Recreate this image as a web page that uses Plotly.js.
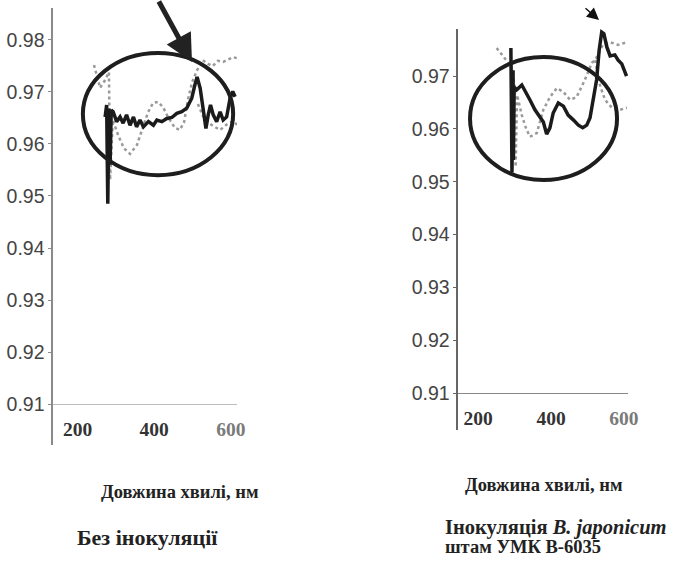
<!DOCTYPE html>
<html>
<head>
<meta charset="utf-8">
<script src="https://cdn.plot.ly/plotly-3.0.1.min.js"></script>
<style>html,body{margin:0;padding:0;background:#fff;}#chart{width:680px;height:564px;}</style>
</head>
<body>
<div id="chart"></div>
<script>
// ---- Data ----
// Left panel: "Без інокуляції"
const leftBlackX = [272, 276, 279, 282, 285, 288, 293, 302, 311, 319, 328, 337, 346, 354, 363, 372, 385, 398, 407, 420, 433, 446, 459, 472, 485, 498, 506, 512, 520, 528, 535, 541, 547, 554, 563, 572, 580, 589, 598, 605, 611];
const leftBlackY = [0.9652, 0.9675, 0.9485, 0.9668, 0.9560, 0.9665, 0.9662, 0.9643, 0.9652, 0.9640, 0.9656, 0.9636, 0.9652, 0.9633, 0.9646, 0.9633, 0.9643, 0.9636, 0.9646, 0.9643, 0.9649, 0.9651, 0.9659, 0.9662, 0.9669, 0.9688, 0.9713, 0.9729, 0.9707, 0.9662, 0.9630, 0.9656, 0.9675, 0.9656, 0.9643, 0.9662, 0.9646, 0.9652, 0.9688, 0.9701, 0.9691];
const leftDotAX = [243, 259, 272, 282, 285, 292, 306, 321, 337, 355, 371, 384, 397, 410, 423, 436, 454, 467, 478, 488, 499, 512, 527, 540, 553, 566, 580, 593, 606, 616];
const leftDotAY = [0.9752, 0.9708, 0.9723, 0.9738, 0.9531, 0.9646, 0.9617, 0.9592, 0.9581, 0.9598, 0.9633, 0.9661, 0.9679, 0.9681, 0.9671, 0.9652, 0.9631, 0.9627, 0.9642, 0.9685, 0.9719, 0.9742, 0.9761, 0.9754, 0.9750, 0.9760, 0.9758, 0.9763, 0.9767, 0.9765];
const leftDotBX = [514, 527, 540, 553, 572, 590, 606, 616];
const leftDotBY = [0.9677, 0.9654, 0.9642, 0.9635, 0.9627, 0.9638, 0.9644, 0.9637];

// Right panel: "Інокуляція B. japonicum штам УМК B-6035"
const rightBlackX = [290, 293, 296, 297, 299, 306, 320, 329, 342, 356, 370, 379, 388, 397, 406, 420, 434, 447, 461, 475, 487, 498, 507, 516, 525, 532, 539, 545, 553, 562, 575, 584, 594, 607];
const rightBlackY = [0.9753, 0.9518, 0.9711, 0.9541, 0.9679, 0.9674, 0.9683, 0.9670, 0.9655, 0.9636, 0.9622, 0.9613, 0.9590, 0.9602, 0.9630, 0.9649, 0.9643, 0.9626, 0.9617, 0.9607, 0.9602, 0.9607, 0.9621, 0.9655, 0.9693, 0.9749, 0.9783, 0.9780, 0.9755, 0.9738, 0.9740, 0.9730, 0.9723, 0.9700];
const rightDotAX = [251, 271, 292, 301, 303, 307, 320, 331, 342, 361, 379, 397, 416, 434, 452, 470, 493, 512, 521, 542, 562, 584, 608];
const rightDotAY = [0.9753, 0.9736, 0.9717, 0.9679, 0.9528, 0.9664, 0.9626, 0.9602, 0.9585, 0.9592, 0.9636, 0.9660, 0.9677, 0.9670, 0.9655, 0.9660, 0.9693, 0.9725, 0.9730, 0.9759, 0.9764, 0.9759, 0.9764];
const rightDotBX = [521, 534, 548, 567, 589, 608];
const rightDotBY = [0.9730, 0.9683, 0.9655, 0.9640, 0.9636, 0.9640];

const yTickVals = [0.91, 0.92, 0.93, 0.94, 0.95, 0.96, 0.97, 0.98];
const yTickText = ['0.91', '0.92', '0.93', '0.94', '0.95', '0.96', '0.97', '0.98'];
const xTickVals = [200, 400, 600];
const xTickText = ['200', '400', '<span style="color:#7a7a7a">600</span>'];

const xTitle = 'Довжина хвилі, нм';
const leftCaption = 'Без інокуляції';
const rightCaption1 = 'Інокуляція <i>B. japonicum</i>';
const rightCaption2 = 'штам УМК B-6035';

// ---- Styles ----
const blackLine = {color: '#1b1b1b', width: 3.5};
const dotLine = {color: '#9a9a9a', width: 2.5, dash: 'dot'};

const traces = [
  {x: leftDotAX, y: leftDotAY, xaxis: 'x', yaxis: 'y', mode: 'lines', line: dotLine},
  {x: leftDotBX, y: leftDotBY, xaxis: 'x', yaxis: 'y', mode: 'lines', line: dotLine},
  {x: leftBlackX, y: leftBlackY, xaxis: 'x', yaxis: 'y', mode: 'lines', line: blackLine},
  {x: rightDotAX, y: rightDotAY, xaxis: 'x2', yaxis: 'y2', mode: 'lines', line: dotLine},
  {x: rightDotBX, y: rightDotBY, xaxis: 'x2', yaxis: 'y2', mode: 'lines', line: dotLine},
  {x: rightBlackX, y: rightBlackY, xaxis: 'x2', yaxis: 'y2', mode: 'lines', line: blackLine}
];

const yTickFont = {family: 'Liberation Sans, Arial, sans-serif', size: 19.5, color: '#444'};
const xTickFont = {family: 'Liberation Serif, Times New Roman, serif', size: 19.5, color: '#333', weight: 'bold'};
const capFont = {family: 'Liberation Serif, Times New Roman, serif', color: '#222', weight: 'bold'};

function xAx(domain, range, pos, lc) {
  return {domain: domain, range: range, anchor: 'free', position: pos,
    showline: true, linecolor: lc, linewidth: 1.5,
    tickvals: xTickVals, ticktext: xTickText, tickfont: xTickFont,
    ticks: 'outside', ticklen: 7, tickcolor: 'rgba(0,0,0,0)',
    showgrid: false, zeroline: false, fixedrange: true};
}
function yAx(domain, range, anchor, lc) {
  return {domain: domain, range: range, anchor: anchor,
    showline: true, linecolor: lc, linewidth: 1.5,
    tickvals: yTickVals, ticktext: yTickText, tickfont: yTickFont,
    ticks: 'outside', ticklen: 3, tickcolor: lc, tickwidth: 1,
    showgrid: false, zeroline: false, fixedrange: true};
}

const layout = {
  width: 680, height: 564,
  margin: {l: 0, r: 0, t: 0, b: 0},
  paper_bgcolor: '#fff', plot_bgcolor: '#fff',
  showlegend: false,
  xaxis: xAx([0.0779, 0.3485], [136, 616], 0.2837, '#bdbdbd'),
  yaxis: yAx([0.2110, 0.9858], [0.90212, 0.98615], 'x', '#8a8a8a'),
  xaxis2: xAx([0.6735, 0.9235], [145, 611], 0.3032, '#888'),
  yaxis2: yAx([0.2376, 0.9486], [0.9030, 0.9789], 'x2', '#666'),
  shapes: [
    {type: 'circle', xref: 'x', yref: 'y', x0: 214, x1: 606, y0: 0.9540, y1: 0.9775,
     line: {color: '#1e1e1e', width: 4}},
    {type: 'circle', xref: 'x2', yref: 'y2', x0: 178, x1: 581, y0: 0.95032, y1: 0.97360,
     line: {color: '#1e1e1e', width: 4}}
  ],
  annotations: [
    {xref: 'paper', yref: 'paper', x: 0.28235, y: 0.89007, text: '', showarrow: true,
     ax: -34, ay: -64, arrowhead: 2, arrowsize: 1.1, arrowwidth: 5, arrowcolor: '#222'},
    {xref: 'paper', yref: 'paper', x: 0.8809, y: 0.96454, text: '', showarrow: true,
     ax: -15, ay: -13, arrowhead: 2, arrowsize: 1.6, arrowwidth: 1.5, arrowcolor: '#111'},
    {xref: 'paper', yref: 'paper', x: 0.2647, y: 0.12766, text: xTitle, showarrow: false,
     xanchor: 'center', yanchor: 'middle', font: Object.assign({size: 18.5}, capFont)},
    {xref: 'paper', yref: 'paper', x: 0.8, y: 0.14007, text: xTitle, showarrow: false,
     xanchor: 'center', yanchor: 'middle', font: Object.assign({size: 18.5}, capFont)},
    {xref: 'paper', yref: 'paper', x: 0.2162, y: 0.04787, text: leftCaption, showarrow: false,
     xanchor: 'center', yanchor: 'middle', font: Object.assign({size: 22}, capFont)},
    {xref: 'paper', yref: 'paper', x: 0.6515, y: 0.0656, text: rightCaption1, showarrow: false,
     xanchor: 'left', yanchor: 'middle', font: Object.assign({size: 20.5}, capFont)},
    {xref: 'paper', yref: 'paper', x: 0.6515, y: 0.0301, text: rightCaption2, showarrow: false,
     xanchor: 'left', yanchor: 'middle', font: Object.assign({size: 18.5}, capFont)}
  ]
};

Plotly.newPlot('chart', traces, layout, {staticPlot: true, displayModeBar: false});
</script>
</body>
</html>
